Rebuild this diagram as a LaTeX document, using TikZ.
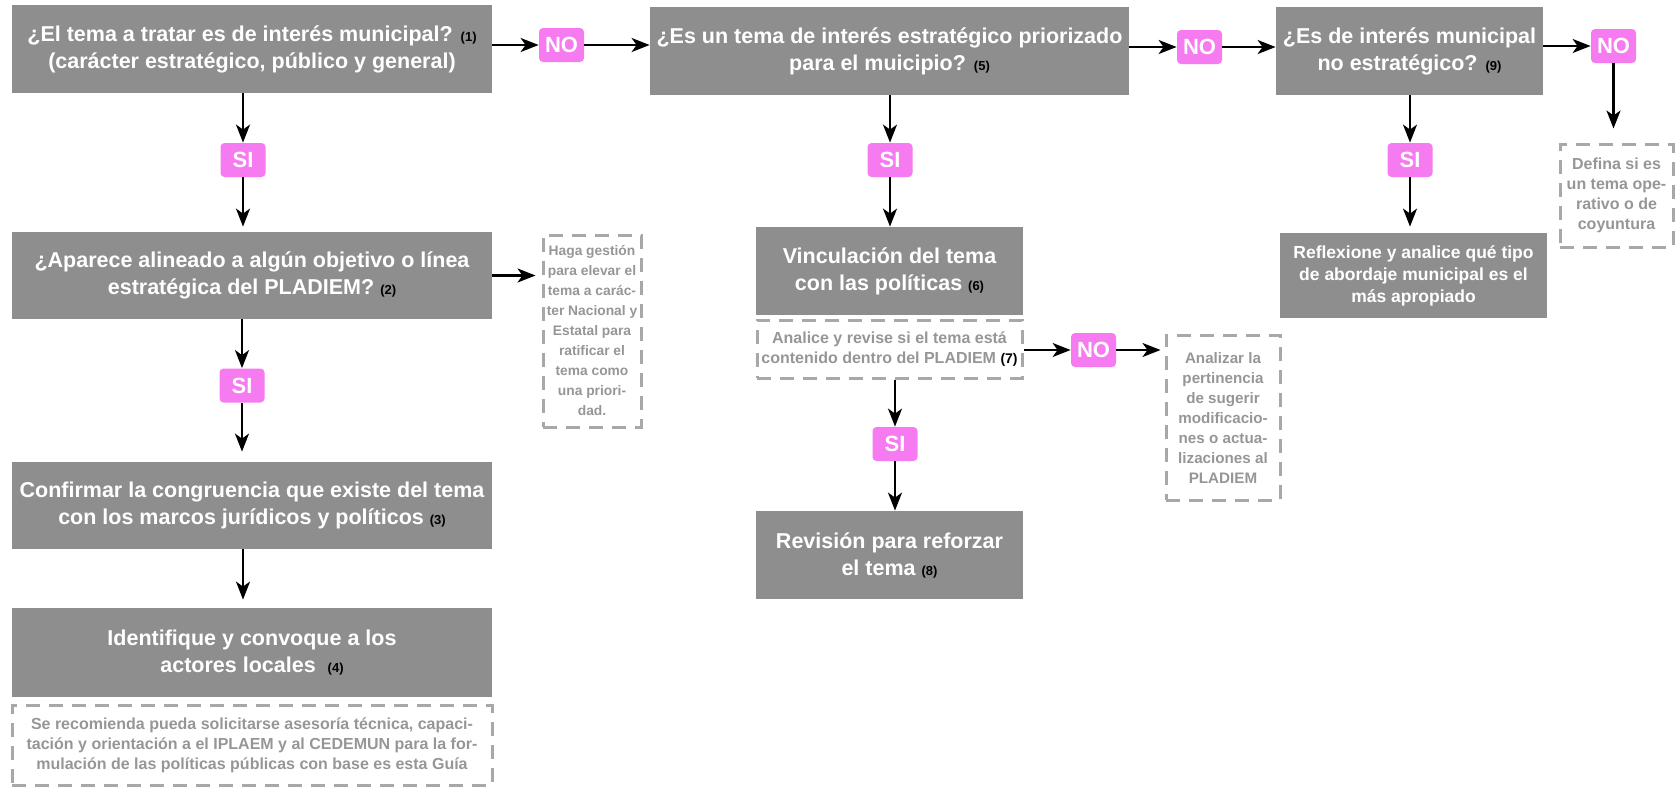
\documentclass[tikz,border=0pt]{standalone}
\usepackage{fontspec}
\setmainfont{Liberation Sans}
\usepackage{tikz}
\usetikzlibrary{arrows.meta,positioning}

\definecolor{boxgray}{RGB}{142,142,142}
\definecolor{pillpink}{RGB}{246,122,240}
\definecolor{notegray}{RGB}{168,168,168}
\definecolor{notetext}{RGB}{150,150,150}

\newcommand{\pasono}[1]{{\fontsize{6.5}{7}\selectfont\color{black}(#1)}}

\tikzset{
	paso/.style={fill=boxgray, text=white, align=center, inner sep=0pt,
		font=\fontsize{10.75}{13.5}\selectfont\bfseries},
	pill/.style={fill=pillpink, text=white, rounded corners=2pt, inner sep=0pt,
		minimum width=22.5pt, minimum height=17pt, font=\fontsize{11}{12}\selectfont\bfseries},
	nota/.style={draw=notegray, line width=1.5pt, dash pattern=on 7pt off 4.5pt,
		text=notetext, align=center, inner sep=0pt, font=\fontsize{8}{10}\selectfont\bfseries},
	arr/.style={-{Stealth[length=9pt,width=7pt,inset=2.5pt]}, line width=1.2pt, black}
}

\begin{document}
\begin{tikzpicture}[x=0.5pt, y=-0.5pt]
\useasboundingbox (0,0) rectangle (1676,787);

\node[paso, minimum width=240pt, minimum height=44pt] (q1) at (252,49)
	{¿El tema a tratar es de interés municipal? \pasono{1}\\(carácter estratégico, público y general)};
\node[pill] (si1) at (243,160) {SI};
\node[paso, minimum width=240pt, minimum height=43.5pt] (q2) at (252,275.5)
	{¿Aparece alineado a algún objetivo o línea\\estratégica del PLADIEM? \pasono{2}};
\node[nota, minimum width=49pt, minimum height=96pt, font=\fontsize{6.9}{10}\selectfont\bfseries] (haga) at (592,331)
	{Haga gestión\\para elevar el\\tema a carác-\\ter Nacional y\\Estatal para\\ratificar el\\tema como\\una priori-\\dad.};
\node[pill] (si2) at (242,385.5) {SI};
\node[paso, minimum width=240pt, minimum height=43.5pt] (q3) at (252,505.5)
	{Confirmar la congruencia que existe del tema\\con los marcos jurídicos y políticos \pasono{3}};
\node[paso, minimum width=240pt, minimum height=44.5pt] (q4) at (252,652.5)
	{Identifique y convoque a los\\actores locales \ \pasono{4}};
\node[nota, minimum width=240pt, minimum height=40pt] (guia) at (252,745)
	{Se recomienda pueda solicitarse asesoría técnica, capaci-\\tación y orientación a el IPLAEM y al CEDEMUN para la for-\\mulación de las políticas públicas con base es esta Guía};

\node[pill] (no1) at (561.5,45) {NO};
\node[paso, minimum width=239.5pt, minimum height=44pt] (q5) at (889.5,51)
	{¿Es un tema de interés estratégico priorizado\\para el muicipio? \pasono{5}};
\node[pill] (si5) at (890,160) {SI};
\node[paso, minimum width=133.5pt, minimum height=44pt] (q6) at (889.5,271)
	{Vinculación del tema\\con las políticas \pasono{6}};
\node[nota, minimum width=132.5pt, minimum height=29pt] (q7) at (889.5,349)
	{Analice y revise si el tema está\\contenido dentro del PLADIEM {\fontsize{7}{8}\selectfont\color{black}(7)}};
\node[pill] (no4) at (1093.5,350) {NO};
\node[nota, minimum width=57pt, minimum height=82.5pt, font=\fontsize{7.6}{10}\selectfont\bfseries] (pert) at (1223,417.5)
	{Analizar la\\pertinencia\\de sugerir\\modificacio-\\nes o actua-\\lizaciones al\\PLADIEM};
\node[pill] (si7) at (895,444) {SI};
\node[paso, minimum width=133.5pt, minimum height=44pt] (q8) at (889.5,555)
	{Revisión para reforzar\\el tema \pasono{8}};

\node[pill] (no2) at (1199.5,47) {NO};
\node[paso, minimum width=133.5pt, minimum height=44pt] (q9) at (1409.5,51)
	{¿Es de interés municipal\\no estratégico? \pasono{9}};
\node[pill] (no3) at (1613.5,46) {NO};
\node[nota, minimum width=56.5pt, minimum height=51.5pt] (defina) at (1616.5,195.5)
	{Defina si es\\un tema ope-\\rativo o de\\coyuntura};
\node[pill] (si9) at (1410,160) {SI};
\node[paso, minimum width=133.5pt, minimum height=42.5pt, font=\fontsize{8.75}{11}\selectfont\bfseries] (refl) at (1413.5,275.5)
	{Reflexione y analice qué tipo\\de abordaje municipal es el\\más apropiado};

\path[arr]
(q1.east |- no1) edge (no1)
(no1) edge (no1 -| q5.west)
(q5.east |- no2) edge (no2)
(no2) edge (no2 -| q9.west)
(q9.east |- no3) edge (no3)
(no3) edge[shorten >=7pt] (no3 |- defina.north)
(q1.south -| si1) edge (si1)
(si1) edge[shorten >=2.5pt] (si1 |- q2.north)
(q2.east) edge[shorten >=3pt] (q2.east -| haga.west)
(q2.south -| si2) edge (si2)
(si2) edge[shorten >=5pt] (si2 |- q3.north)
(q3.south -| si1) edge[shorten >=4pt] (q4.north -| si1)
(q5.south -| si5) edge (si5)
(si5) edge (si5 |- q6.north)
(q7.east |- no4) edge (no4)
(no4) edge[shorten >=2pt] (no4 -| pert.west)
(q7.south -| si7) edge (si7)
(si7) edge (si7 |- q8.north)
(q9.south -| si9) edge (si9)
(si9) edge[shorten >=3pt] (si9 |- refl.north)
;
\end{tikzpicture}
\end{document}
